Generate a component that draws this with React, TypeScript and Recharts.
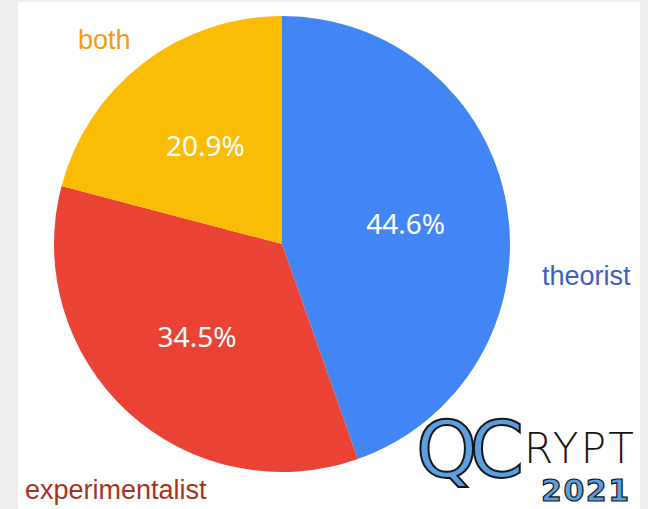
import React from 'react';
import { PieChart, Pie, Cell } from 'recharts';

const names = ['theorist', 'experimentalist', 'both'];
const shares = [44.6, 34.5, 20.9];
const COLORS = ['#4285f4', '#ea4335', '#fbbc04'];

const data = names.map((name, i) => ({ name, value: shares[i] }));

const RAD = Math.PI / 180;

const renderLabel = (props: any) => {
  const { cx, cy, midAngle, outerRadius, value } = props;
  const r = outerRadius * 0.55;
  const x = cx + r * Math.cos(-midAngle * RAD);
  const y = cy + r * Math.sin(-midAngle * RAD);
  return (
    <text
      x={x}
      y={y}
      fill="#ffffff"
      textAnchor="middle"
      dominantBaseline="central"
      fontSize={28}
      fontFamily="'Noto Sans', sans-serif"
    >
      {`${value.toFixed(1)}%`}
    </text>
  );
};

const outerText: React.CSSProperties = {
  position: 'absolute',
  fontFamily: "'Liberation Sans', Arial, sans-serif",
  fontSize: 27,
  lineHeight: '30px',
};

export default function App() {
  return (
    <div style={{ position: 'fixed', left: 0, top: 0, width: 648, height: 509, background: '#eeeeee', overflow: 'hidden' }}>
      <div style={{ position: 'absolute', left: 18, top: 2, width: 622, height: 507, background: '#ffffff' }} />
      <div style={{ position: 'absolute', left: 0, top: 0 }}>
        <PieChart width={648} height={509} margin={{ top: 0, right: 0, bottom: 0, left: 0 }}>
          <Pie
            data={data}
            dataKey="value"
            cx={282}
            cy={244}
            outerRadius={228}
            startAngle={90}
            endAngle={-270}
            stroke="none"
            label={renderLabel}
            labelLine={false}
            isAnimationActive={false}
          >
            {data.map((entry, index) => (
              <Cell key={`cell-${index}`} fill={COLORS[index % COLORS.length]} />
            ))}
          </Pie>
        </PieChart>
      </div>
      <div style={{ ...outerText, left: 78, top: 25, color: '#f29c11' }}>both</div>
      <div style={{ ...outerText, left: 542, top: 261, color: '#3d5ec4' }}>theorist</div>
      <div style={{ ...outerText, left: 25, top: 475, color: '#a8321e' }}>experimentalist</div>
      <svg style={{ position: 'absolute', left: 0, top: 0 }} width={648} height={509}>
        <text x={416} y={477} fontSize={78} fontFamily="'DejaVu Sans', sans-serif" fill="#5b9fe0" stroke="#151515" strokeWidth={2} letterSpacing={-8}>
          QC
        </text>
        <text x={524} y={463} fontSize={42} fontFamily="'DejaVu Sans', sans-serif" fontWeight={300} fill="#151515" textLength={110}>
          RYPT
        </text>
        <text x={541} y={501} fontSize={30} fontFamily="'DejaVu Sans', sans-serif" fontWeight="bold" fill="#5b9fe0" stroke="#151515" strokeWidth={1.2} textLength={88}>
          2021
        </text>
      </svg>
    </div>
  );
}
